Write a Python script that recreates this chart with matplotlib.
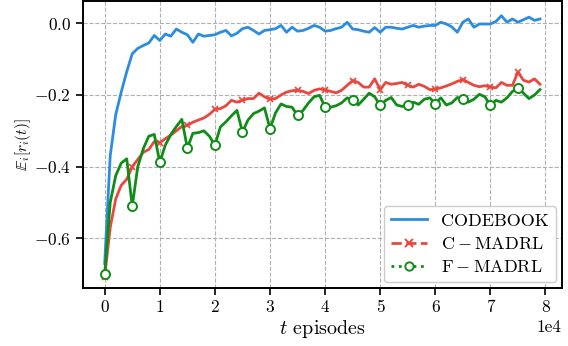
import numpy as np
import matplotlib
matplotlib.use('Agg')
from matplotlib import pyplot as plt
from matplotlib.lines import Line2D
from matplotlib.ticker import ScalarFormatter

plt.rcParams['font.family'] = 'serif'
plt.rcParams['font.serif'] = ['cmr10']
plt.rcParams['mathtext.fontset'] = 'cm'
plt.rcParams['axes.formatter.use_mathtext'] = True

# episodes, every 1000 (axis shown in units of 1e4)
episodes = np.arange(0, 80000, 1000)

codebook = [-0.67, -0.37, -0.255, -0.192, -0.135, -0.085, -0.07, -0.062, -0.055, -0.034,
            -0.048, -0.03, -0.036, -0.016, -0.025, -0.032, -0.053, -0.03, -0.036, -0.034,
            -0.032, -0.025, -0.02, -0.035, -0.028, -0.015, -0.011, -0.02, -0.03, -0.02,
            -0.018, -0.015, -0.006, -0.025, -0.011, -0.022, -0.02, -0.014, -0.006, -0.011,
            -0.022, -0.02, -0.015, -0.011, 0.003, -0.016, -0.018, -0.022, -0.025, -0.012,
            -0.025, -0.011, -0.011, -0.014, -0.016, -0.011, -0.006, -0.011, -0.008, -0.006,
            -0.006, 0.003, -0.002, -0.01, -0.025, 0.003, 0.012, -0.011, -0.002, -0.002,
            -0.002, 0.005, 0.021, 0.003, 0.012, 0.003, 0.01, 0.017, 0.008, 0.012]

c_madrl = [-0.707, -0.57, -0.49, -0.452, -0.435, -0.40, -0.38, -0.36, -0.352, -0.33,
           -0.333, -0.322, -0.312, -0.3, -0.288, -0.285, -0.276, -0.27, -0.264, -0.254,
           -0.24, -0.238, -0.23, -0.215, -0.22, -0.215, -0.21, -0.21, -0.195, -0.205,
           -0.212, -0.21, -0.2, -0.192, -0.188, -0.187, -0.19, -0.196, -0.187, -0.183,
           -0.186, -0.19, -0.194, -0.187, -0.173, -0.16, -0.165, -0.178, -0.178, -0.155,
           -0.185, -0.165, -0.17, -0.168, -0.165, -0.173, -0.178, -0.17, -0.176, -0.185,
           -0.184, -0.18, -0.175, -0.169, -0.162, -0.157, -0.165, -0.173, -0.177, -0.174,
           -0.178, -0.18, -0.165, -0.173, -0.173, -0.136, -0.159, -0.164, -0.155, -0.17]

f_madrl = [-0.70, -0.50, -0.425, -0.39, -0.378, -0.51, -0.40, -0.35, -0.315, -0.31,
           -0.388, -0.34, -0.31, -0.288, -0.268, -0.348, -0.307, -0.305, -0.3, -0.315,
           -0.34, -0.289, -0.275, -0.258, -0.243, -0.303, -0.27, -0.252, -0.245, -0.236,
           -0.294, -0.25, -0.225, -0.232, -0.234, -0.257, -0.243, -0.222, -0.205, -0.201,
           -0.234, -0.234, -0.23, -0.222, -0.208, -0.215, -0.228, -0.212, -0.195, -0.205,
           -0.229, -0.215, -0.207, -0.228, -0.232, -0.229, -0.22, -0.226, -0.212, -0.208,
           -0.224, -0.208, -0.228, -0.222, -0.207, -0.212, -0.22, -0.212, -0.198, -0.205,
           -0.229, -0.215, -0.22, -0.208, -0.19, -0.181, -0.195, -0.21, -0.2, -0.185]

labels = ['CODEBOOK', r'$\mathrm{C-MADRL}$', r'$\mathrm{F-MADRL}$']
c_blue, c_red, c_green = '#2b8ce0', '#e8483e', '#108c18'

fig = plt.figure(figsize=(5.68, 3.46), dpi=100)
ax = fig.add_axes([0.146, 0.168, 0.843, 0.83])

ax.plot(episodes, codebook, color=c_blue, lw=2.0)
ax.plot(episodes, c_madrl, color=c_red, lw=2.0, marker='x', markevery=5,
        markersize=4, markeredgewidth=1.2)
ax.plot(episodes, f_madrl, color=c_green, lw=2.0, marker='o', markevery=5,
        markersize=6.5, markerfacecolor='white', markeredgewidth=1.4)

ax.grid(True, ls='--', color='#b0b0b0', lw=0.8)
ax.set_axisbelow(True)

fmt = ScalarFormatter(useMathText=False)
fmt.set_powerlimits((0, 0))
ax.xaxis.set_major_formatter(fmt)
ax.set_xticks(np.arange(0, 80001, 10000))
ax.set_yticks([-0.6, -0.4, -0.2, 0.0])
ax.set_ylim(-0.738, 0.063)
ax.tick_params(labelsize=12.5, length=5, width=1.2)
ax.xaxis.get_offset_text().set_fontsize(12.5)
for s in ax.spines.values():
    s.set_linewidth(1.4)

ax.set_xlabel(r'$t$ episodes', fontsize=14.5, labelpad=2)
ax.set_ylabel(r'$\mathbb{E}_i[r_i(t)]$', fontsize=11, labelpad=1)

handles = [Line2D([], [], color=c_blue, lw=2.0),
           Line2D([], [], color=c_red, lw=2.0, ls='--', marker='x', markersize=6, markeredgewidth=1.4),
           Line2D([], [], color=c_green, lw=2.0, ls=':', marker='o', markersize=6,
                  markerfacecolor='white', markeredgewidth=1.4)]
ax.legend(handles, labels, loc='lower right', fontsize=13, handlelength=2.0,
          edgecolor='#cccccc', framealpha=1, borderaxespad=0.3, labelspacing=0.4)

fig.savefig('out.png', dpi=100)
